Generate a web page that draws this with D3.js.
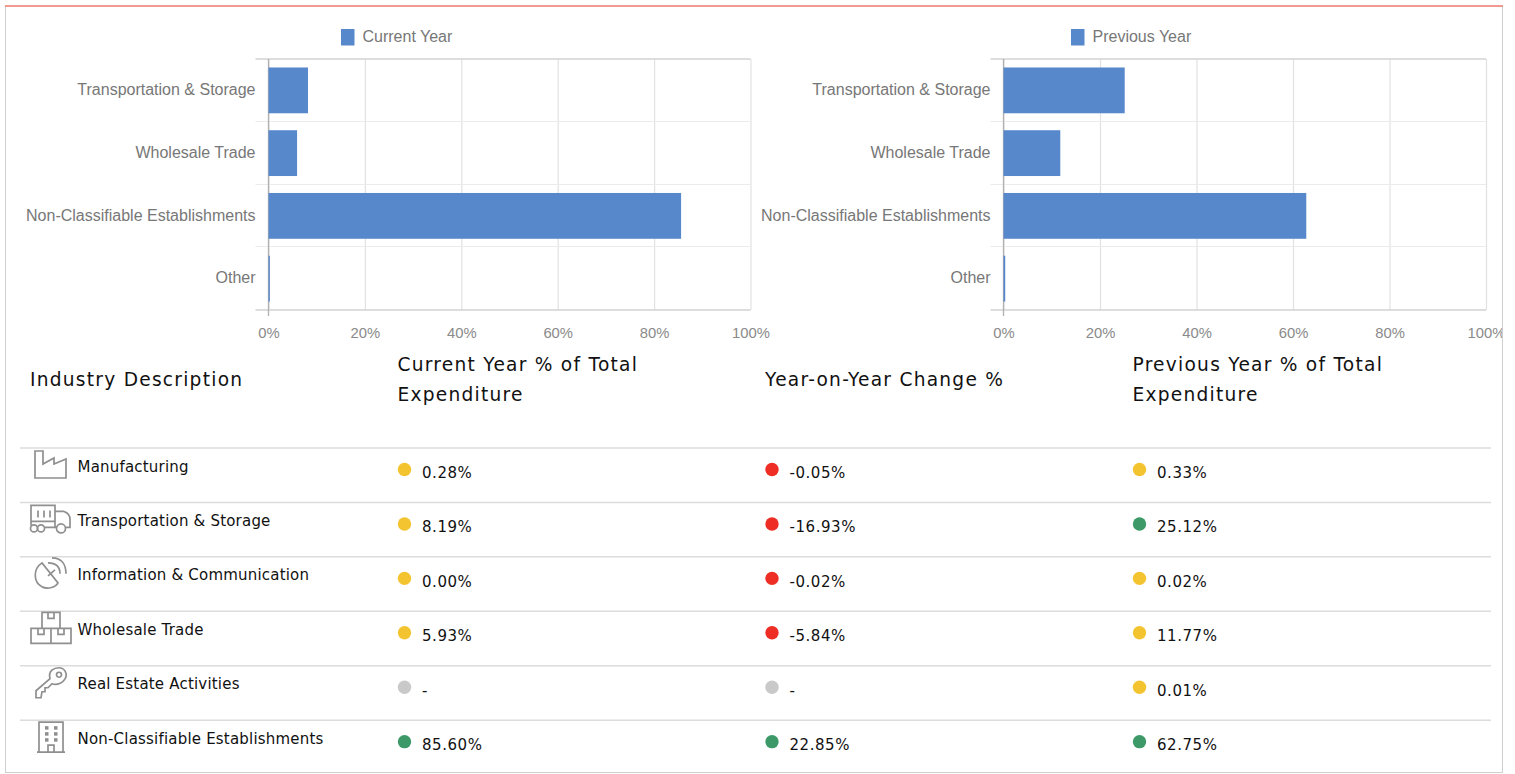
<!DOCTYPE html>
<html>
<head>
<meta charset="utf-8">
<script src="https://cdn.jsdelivr.net/npm/d3@7"></script>
<style>
    html, body { margin: 0; padding: 0; background: #fff; overflow: hidden; }
    svg { display: block; }
    .chart text { font-family: "Liberation Sans", Arial, sans-serif; }
    .table text { font-family: "DejaVu Sans", sans-serif; fill: #111; }
</style>
</head>
<body>
<svg id="page" width="1515" height="774"></svg>
<script>
// chart data
const chartCategories = ["Transportation & Storage", "Wholesale Trade", "Non-Classifiable Establishments", "Other"];
const currentShares = [8.19, 5.93, 85.60, 0.28];
const previousShares = [25.12, 11.77, 62.75, 0.36];
const axisTicks = [0, 20, 40, 60, 80, 100];

// table data
const tableHeaders = [["Industry Description"], ["Current Year % of Total", "Expenditure"], ["Year-on-Year Change %"], ["Previous Year % of Total", "Expenditure"]];
const industries = ["Manufacturing", "Transportation & Storage", "Information & Communication", "Wholesale Trade", "Real Estate Activities", "Non-Classifiable Establishments"];
const icons = ["factory", "truck", "dish", "boxes", "key", "building"];
const currentPct = [0.28, 8.19, 0.00, 5.93, null, 85.60];
const changePct = [-0.05, -16.93, -0.02, -5.84, null, 22.85];
const previousPct = [0.33, 25.12, 0.02, 11.77, 0.01, 62.75];

const svg = d3.select("#page");
const barColor = "#5888cc";
const iconColor = "#8f8f8f";

// card outline
svg.append("rect").attr("x", 5.5).attr("y", 6).attr("width", 1497).attr("height", 766.5)
    .attr("fill", "#fff").attr("stroke", "#cfcfcf");
svg.append("line").attr("x1", 5).attr("x2", 1503).attr("y1", 6).attr("y2", 6)
    .attr("stroke", "#f4806f").attr("stroke-width", 1.5);

svg.append("defs").append("clipPath").attr("id", "cardClip")
    .append("rect").attr("x", 0).attr("y", 0).attr("width", 1502).attr("height", 774);

const barChart = (left, right, values, legendLabel, legendX) => {
    const top = 59, bottom = 310;
    const g = svg.append("g").attr("class", "chart").attr("clip-path", "url(#cardClip)");

    const x = d3.scaleLinear().domain([0, 100]).range([left, right]);
    const y = d3.scaleBand().domain(chartCategories).range([top, bottom]).paddingInner(0.27).paddingOuter(0.135);
    const bandEdge = d => y(d) - y.step() * 0.135;

    // vertical grid and value labels
    const xAxis = g.append("g").attr("transform", `translate(0,${bottom})`)
        .call(d3.axisBottom(x).tickValues(axisTicks).tickFormat(d => d + "%").tickSize(-(bottom - top)).tickPadding(17));
    xAxis.select(".domain").remove();
    xAxis.selectAll("line").attr("stroke", "#e2e2e2").attr("stroke-width", 1.2);
    xAxis.selectAll("text").attr("fill", "#8a8a8a").attr("font-size", 14.8).attr("font-family", null);

    // row separators
    g.selectAll(".sep").data(chartCategories.slice(1)).enter().append("line")
        .attr("x1", left - 13).attr("x2", right)
        .attr("y1", d => Math.round(bandEdge(d)) - 0.5).attr("y2", d => Math.round(bandEdge(d)) - 0.5)
        .attr("stroke", "#ebebeb").attr("stroke-width", 1.2);
    g.selectAll(".edge").data([top, bottom]).enter().append("line")
        .attr("x1", left - 13).attr("x2", right)
        .attr("y1", d => d).attr("y2", d => d)
        .attr("stroke", "#d2d2d2").attr("stroke-width", 1.3);

    // zero line sits under the bars
    g.append("line").attr("x1", x(0)).attr("x2", x(0)).attr("y1", top).attr("y2", bottom + 6)
        .attr("stroke", "#b0b0b0").attr("stroke-width", 1.3);

    g.selectAll("rect.bar").data(values).enter().append("rect")
        .attr("class", "bar")
        .attr("x", x(0))
        .attr("y", (d, i) => y(chartCategories[i]))
        .attr("width", d => x(d) - x(0))
        .attr("height", y.bandwidth())
        .attr("fill", barColor);

    const yAxis = g.append("g").attr("transform", `translate(${left},-0.5)`)
        .call(d3.axisLeft(y).tickSize(0).tickPadding(13));
    yAxis.select(".domain").remove();
    yAxis.selectAll("text").attr("fill", "#777").attr("font-size", 16).attr("font-family", null);

    // legend
    g.append("rect").attr("x", legendX).attr("y", 29).attr("width", 13.5).attr("height", 16.5).attr("fill", barColor);
    g.append("text").attr("x", legendX + 21.5).attr("y", 41.5).attr("fill", "#777").attr("font-size", 16).text(legendLabel);
};

barChart(268.5, 750.5, currentShares, "Current Year", 341);
barChart(1003.5, 1486, previousShares, "Previous Year", 1071);

// table
const table = svg.append("g").attr("class", "table");
const columnX = [30, 397.5, 765, 1132.5];

tableHeaders.forEach((lines, c) => {
    const firstLine = lines.length === 2 ? 371 : 386;
    lines.forEach((line, l) => {
        table.append("text").attr("x", columnX[c]).attr("y", firstLine + l * 30)
            .attr("font-size", 18.6).attr("letter-spacing", 1.25).text(line);
    });
});

const rowY = d3.scaleLinear().domain([0, 6]).range([448, 774.6]);
const dotColor = v => v === null ? "#c9c9c9" : v < 0 ? "#ee2e24" : v >= 20 ? "#3d9a68" : "#f4c430";
const formatPct = v => v === null ? "-" : v.toFixed(2) + "%";

const iconPaths = {
    factory: g => {
        g.append("path").attr("d", "M-16,-13 V14 H15 V-5 L3,0 V-6 L-8,0 V-13 Z");
    },
    truck: g => {
        g.append("path").attr("d", "M-20,-13 H4 V3 H-20 Z M-13,-8 V-1 M-7,-8 V-1 M-1,-8 V-1 M4,-7 H13 Q19,-5 19,1 V9 H15 M6,9 H4 V3 M-6,9 H4 M-20,3 V7");
        [-17, -10, 10].forEach(cx => g.append("circle").attr("cx", cx).attr("cy", 10).attr("r", cx > 0 ? 4.5 : 3.5));
    },
    dish: g => {
        g.append("path").attr("d", "M-9,-10 C-18,-4 -18,9 -9,14 C-3,17 5,14 7,10 Z M-3,3 L4,-3 M-3,-10 C6,-10 9,-5 9,1 M1,-15 C11,-15 15,-8 15,1");
    },
    boxes: g => {
        g.append("path").attr("d", "M-9,-15 H9 V1 H-9 Z M-20,1 H20 V16 H-20 Z M0,1 V16 M-3,-15 V-9 H3 V-15 M-13,1 V7 H-7 V1 M7,1 V7 H13 V1");
    },
    key: g => {
        g.append("path").attr("d", "M-15,16 V9 L-1,-3 C-3,-11 3,-14 8,-14 C14,-14 16,-8 15,-5 C13,1 6,4 1,2 L-3,6 H-6 V10 H-9 L-10,16 Z");
        g.append("circle").attr("cx", 8).attr("cy", -7).attr("r", 2.5);
    },
    building: g => {
        g.append("path").attr("d", "M-12,16 V-14 H12 V16 M-14,16 H14 M-3,16 V9 H3 V16");
        [-6, 3].forEach(cx => [-10, -4, 2].forEach(cy => {
            g.append("rect").attr("x", cx).attr("y", cy).attr("width", 3.5).attr("height", 3.5)
                .attr("fill", iconColor).attr("stroke", "none");
        }));
    }
};

industries.forEach((name, i) => {
    const top = rowY(i);
    table.append("line").attr("x1", 20).attr("x2", 1491).attr("y1", top).attr("y2", top)
        .attr("stroke", "#dcdcdc").attr("stroke-width", 1.5);

    const icon = table.append("g")
        .attr("transform", `translate(51,${top + 16})`)
        .attr("fill", "none").attr("stroke", iconColor).attr("stroke-width", 1.7);
    iconPaths[icons[i]](icon);

    table.append("text").attr("x", 77.5).attr("y", top + 23.5).attr("font-size", 15).attr("letter-spacing", 0.2).text(name);

    [currentPct[i], changePct[i], previousPct[i]].forEach((v, c) => {
        const cx = columnX[c + 1] + 7;
        table.append("circle").attr("cx", cx).attr("cy", top + 21.5).attr("r", 6.7).attr("fill", dotColor(v));
        table.append("text").attr("x", cx + 17.5).attr("y", top + 30).attr("font-size", 15).attr("letter-spacing", 0.55).text(formatPct(v));
    });
});
</script>
</body>
</html>
